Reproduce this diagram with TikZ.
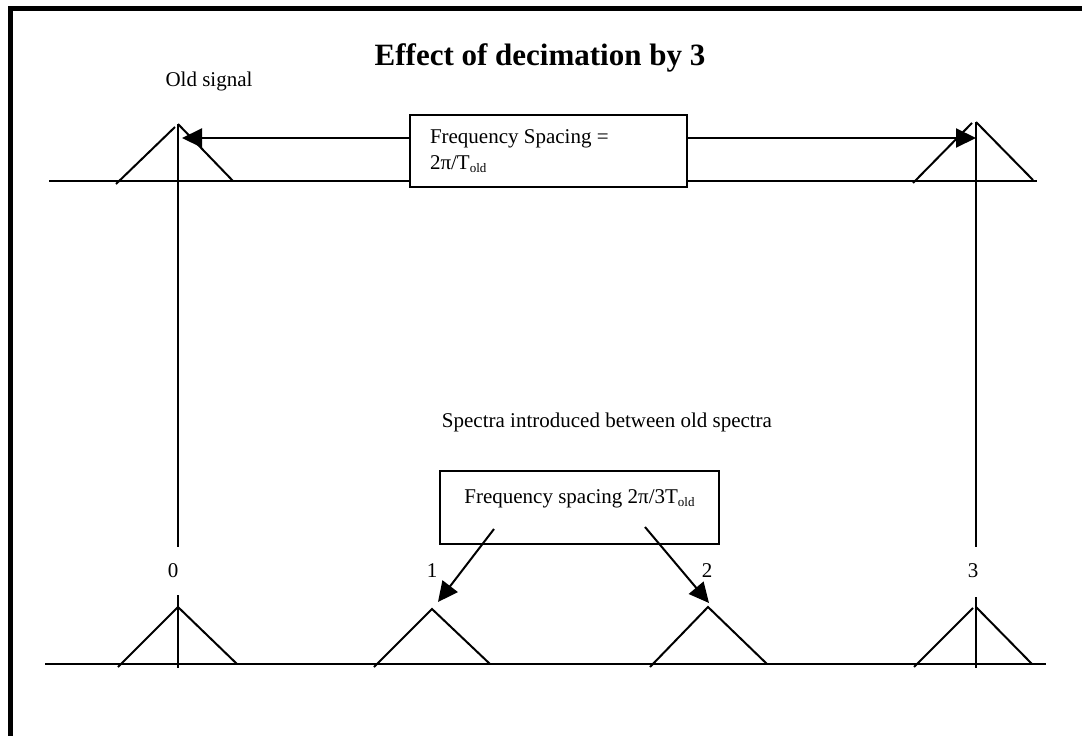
\documentclass[tikz,border=0pt]{standalone}
\usepackage{fontspec}
\setmainfont{Liberation Serif}
\usetikzlibrary{arrows.meta}

\newcommand{\sub}[1]{\raisebox{-0.3ex}{\fontsize{13}{13}\selectfont #1}}

\tikzset{
  line/.style={line width=2pt},
  frame/.style={line width=5.5pt},
  txt/.style={font=\fontsize{21}{26}\selectfont, inner sep=0pt},
  infobox/.style={draw, fill=white, line width=2pt, txt},
  pointer/.style={line width=2pt, -{Triangle[length=20pt,width=19pt]}},
}

\begin{document}
\begin{tikzpicture}[x=1pt,y=-1pt]
  \useasboundingbox (0,0) rectangle (1082,736);

  % outer frame (left and top edges only)
  \draw[frame] (10.5,736) -- (10.5,8.5) -- (1082,8.5);

  % headings
  \node[txt, font=\fontsize{31}{36}\selectfont\bfseries, anchor=base] (title) at (540,65) {Effect of decimation by 3};
  \node[txt, anchor=base] (old) at (209,86) {Old signal};
  \node[txt, anchor=base] (intro) at (607,427) {Spectra introduced between old spectra};

  % ---- old signal spectrum ----
  \draw[line] (49,181) -- (1037,181);
  \draw[line] (116,184) -- (175,127);
  \draw[line] (178,124) -- (233,181);
  \draw[line] (913,183) -- (972,123);
  \draw[line] (976,122) -- (1033,180);
  \draw[line] (178,124) -- (178,547);
  \draw[line] (976,122) -- (976,547);

  % spacing box for the old signal
  \node[infobox, minimum width=277pt, minimum height=72pt, text width=237pt, align=flush left, inner xsep=20pt] (box1) at (548.5,151)
    {Frequency Spacing =\\ 2π/T\sub{old}};
  \coordinate (tipL) at (182,138);
  \coordinate (tipR) at (976,138);
  \draw[pointer] (box1.west |- tipL) -- (tipL);
  \draw[pointer] (box1.east |- tipR) -- (tipR);

  % ---- decimated spectrum ----
  \draw[line] (45,664) -- (1046,664);

  \node[txt, anchor=base] (n0) at (173,577) {0};
  \node[txt, anchor=base] (n1) at (432,577) {1};
  \node[txt, anchor=base] (n2) at (707,577) {2};
  \node[txt, anchor=base] (n3) at (973,577) {3};

  % copy 0
  \draw[line] (178,595) -- (178,668);
  \draw[line] (118,667) -- (178,607) -- (237,664);
  % copy 1
  \draw[line] (374,667) -- (432,609) -- (490,664);
  % copy 2
  \draw[line] (650,667) -- (708,607) -- (767,664);
  % copy 3
  \draw[line] (976,597) -- (976,668);
  \draw[line] (914,667) -- (973,608);
  \draw[line] (976,607) -- (1032,664);

  % spacing box for the decimated signal
  \node[infobox, minimum width=279pt, text height=33pt, text depth=40pt, inner ysep=0pt] (box2) at (579.5,507)
    {Frequency spacing 2π/3T\sub{old}};
  \coordinate (from1) at (494,529);
  \coordinate (from2) at (645,527);
  \coordinate (tip1) at (438,602);
  \coordinate (tip2) at (709,603);
  \draw[pointer] (from1) -- (tip1);
  \draw[pointer] (from2) -- (tip2);
\end{tikzpicture}
\end{document}
